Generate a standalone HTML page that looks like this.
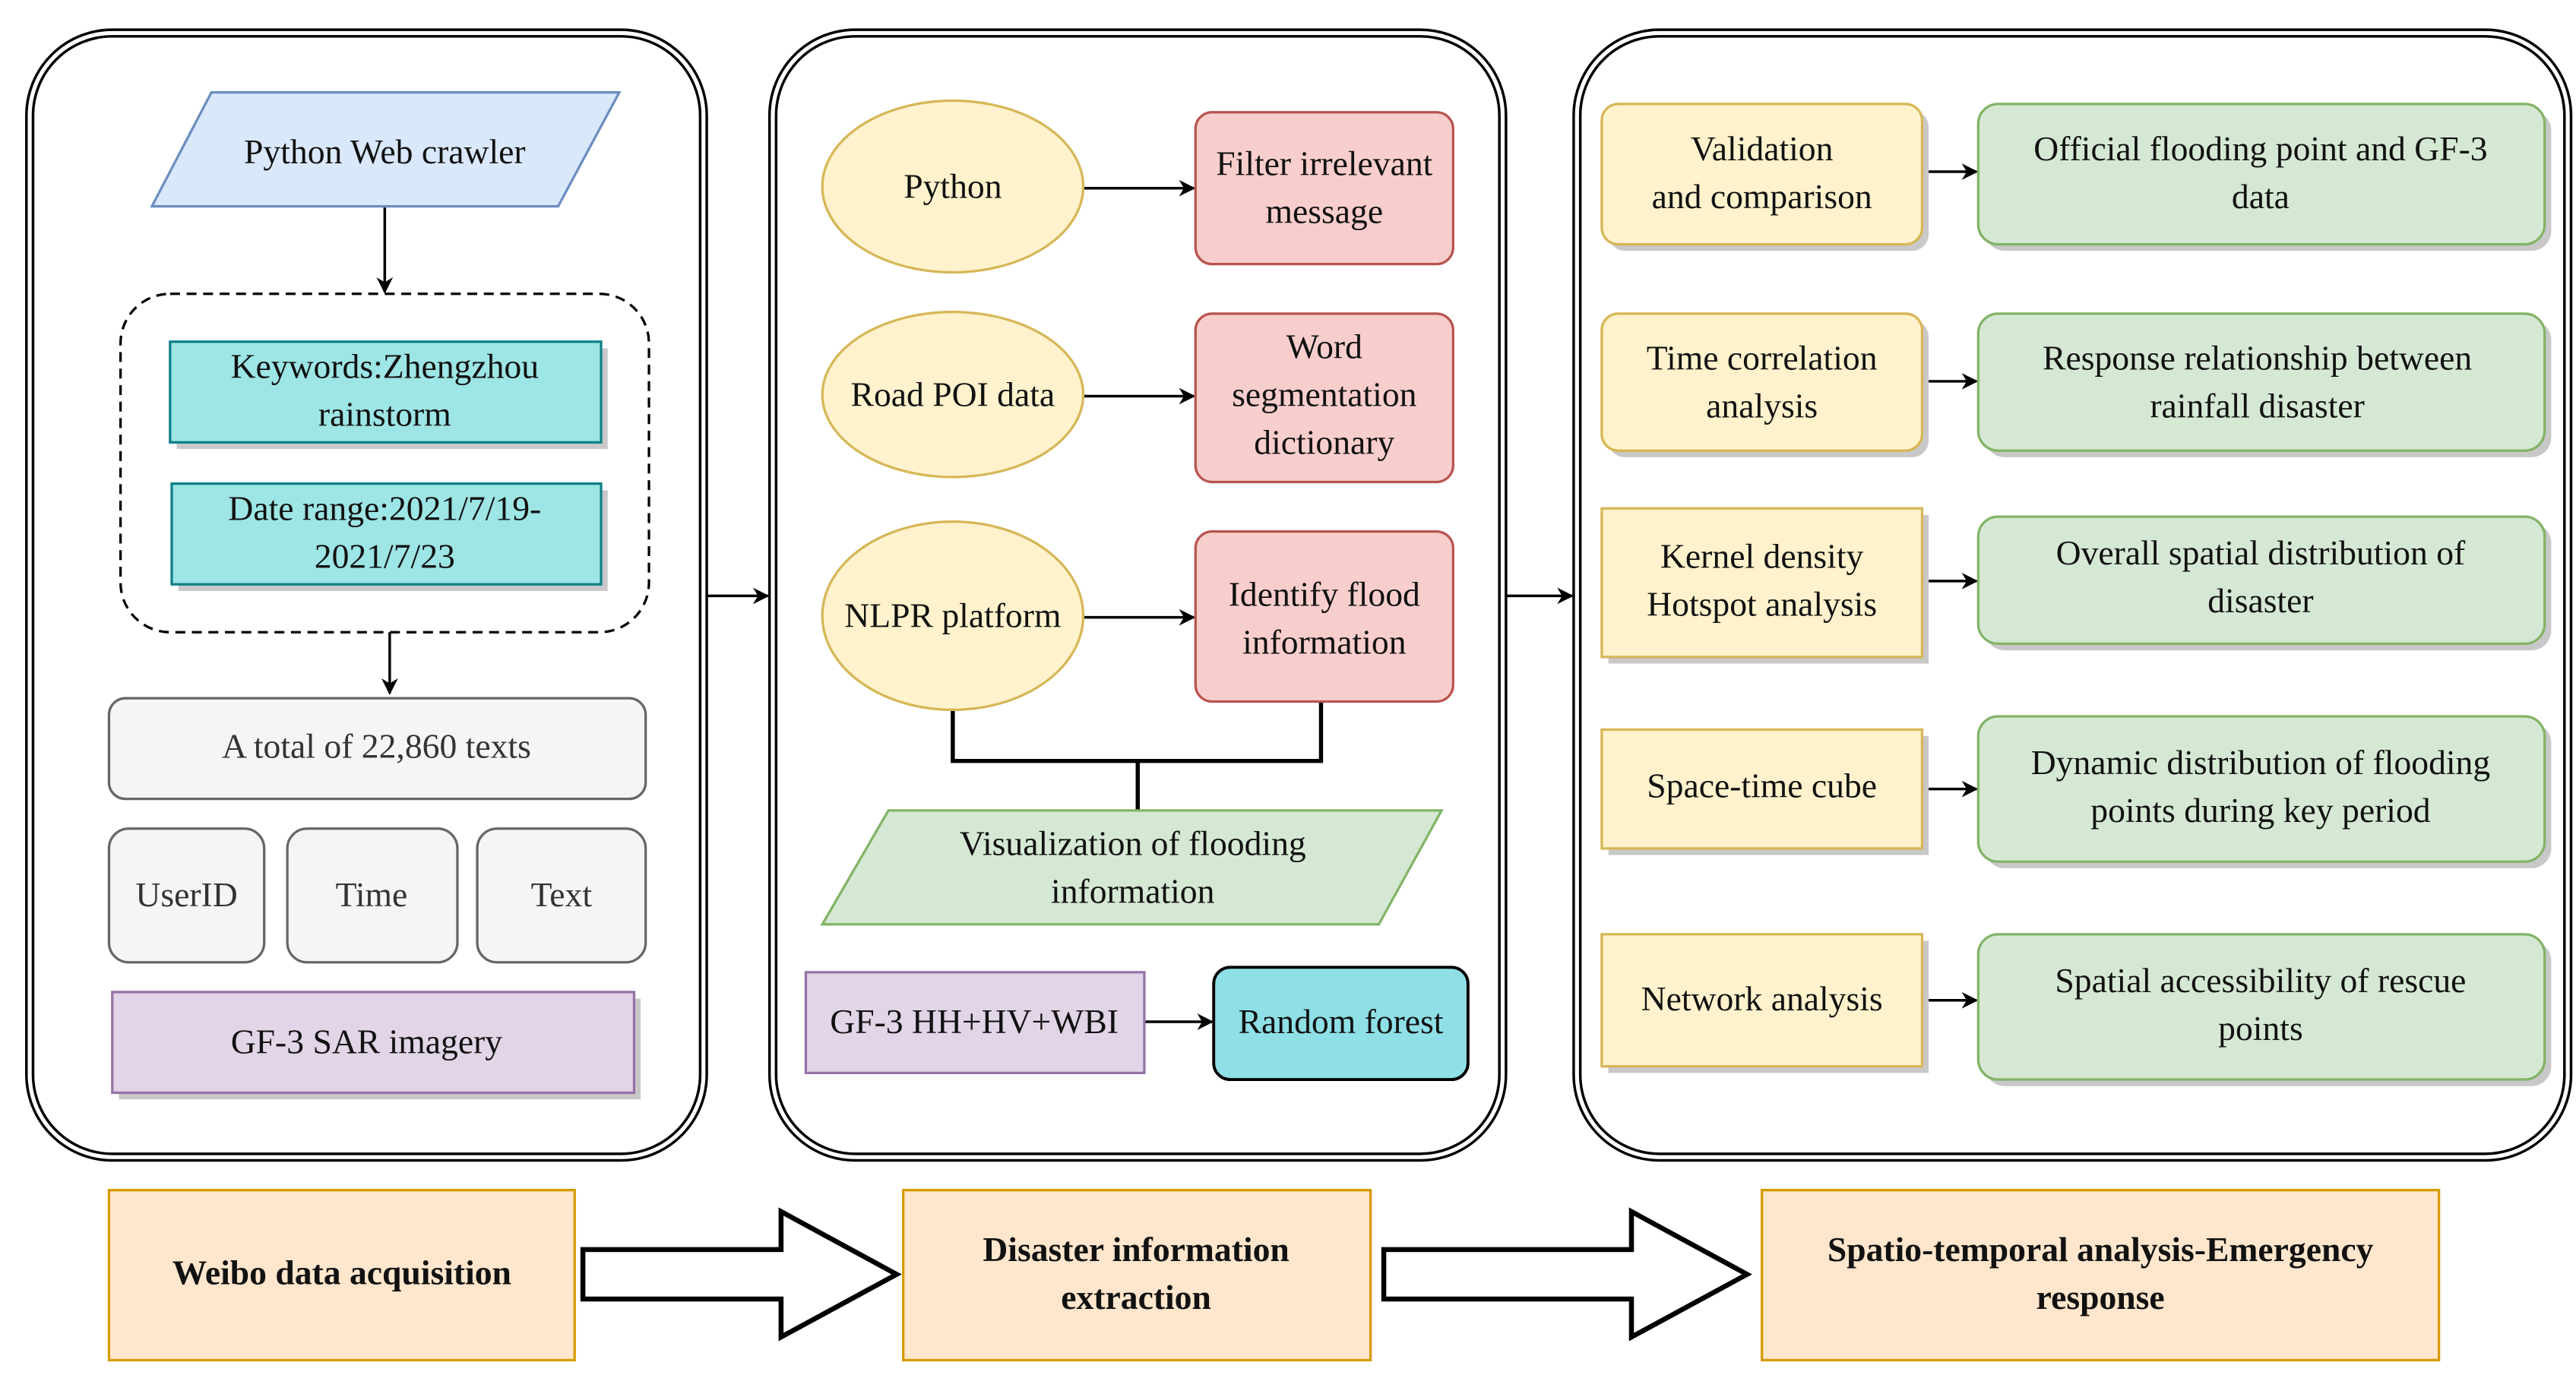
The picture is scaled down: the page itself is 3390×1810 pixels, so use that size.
<!DOCTYPE html>
<html><head><meta charset="utf-8"><style>
html,body{margin:0;padding:0;background:#fff;}
svg{display:block;}
svg text{font-family:"Liberation Serif","DejaVu Serif",serif !important;font-size:21px;fill:#111;text-anchor:middle;}
.b{font-weight:bold;}
</style></head><body>
<svg width="3390" height="1810" viewBox="0 0 1560 833" preserveAspectRatio="none" xmlns="http://www.w3.org/2000/svg" font-family="Liberation Serif, DejaVu Serif, serif">
<defs>
<marker id="ah" markerWidth="10" markerHeight="10" refX="9" refY="5" orient="auto" markerUnits="userSpaceOnUse">
<path d="M0,0 L10,5 L0,10 L3,5 Z" fill="#000"/></marker>
</defs>
<g fill="none" stroke="#000" stroke-width="1.6">
<rect x="16" y="18" width="412" height="685" rx="52"/>
<rect x="20" y="22" width="404" height="677" rx="48"/>
<rect x="466" y="18" width="446" height="685" rx="52"/>
<rect x="470" y="22" width="438" height="677" rx="48"/>
<rect x="953" y="18" width="604" height="685" rx="52"/>
<rect x="957" y="22" width="596" height="677" rx="48"/>
</g>
<g stroke="#000" stroke-width="1.6" fill="none" marker-end="url(#ah)">
<line x1="233" y1="125" x2="233" y2="177"/>
<line x1="236" y1="383" x2="236" y2="420"/>
<line x1="428" y1="361" x2="465" y2="361"/>
<line x1="912" y1="361" x2="952" y2="361"/>
<line x1="656" y1="114" x2="723" y2="114"/>
<line x1="656" y1="240" x2="723" y2="240"/>
<line x1="656" y1="374" x2="723" y2="374"/>
<line x1="693" y1="619" x2="734" y2="619"/>
<line x1="1164" y1="104" x2="1197" y2="104"/>
<line x1="1164" y1="231" x2="1197" y2="231"/>
<line x1="1164" y1="352" x2="1197" y2="352"/>
<line x1="1164" y1="478" x2="1197" y2="478"/>
<line x1="1164" y1="606" x2="1197" y2="606"/>
</g>
<path d="M577,430 V461 H800 V425 M689,461 V491" stroke="#000" stroke-width="2.5" fill="none"/>

<polygon points="128,56 375,56 338,125 92,125" fill="#dae8fc" stroke="#6c8ebf" stroke-width="1.5"/>
<text x="233" y="99" font-family="Liberation Serif, serif" font-size="21">Python Web crawler</text>
<rect x="73" y="178" width="320" height="205" rx="30" fill="none" stroke="#000" stroke-width="1.5" stroke-dasharray="6,4"/>
<rect x="107" y="211" width="261" height="61" fill="#c8c8c8"/>
<rect x="103" y="207" width="261" height="61" fill="#9ee5e5" stroke="#0e8088" stroke-width="1.5"/>
<text x="233" y="229" font-family="Liberation Serif, serif" font-size="21">Keywords:Zhengzhou</text><text x="233" y="258" font-family="Liberation Serif, serif" font-size="21">rainstorm</text>
<rect x="108" y="297" width="260" height="61" fill="#c8c8c8"/>
<rect x="104" y="293" width="260" height="61" fill="#9ee5e5" stroke="#0e8088" stroke-width="1.5"/>
<text x="233" y="315" font-family="Liberation Serif, serif" font-size="21">Date range:2021/7/19-</text><text x="233" y="344" font-family="Liberation Serif, serif" font-size="21">2021/7/23</text>
<rect x="66" y="423" width="325" height="61" rx="10" fill="#f5f5f5" stroke="#666" stroke-width="1.5"/>
<text x="228" y="459" style="fill:#333" font-family="Liberation Serif, serif" font-size="21">A total of 22,860 texts</text>
<rect x="66" y="502" width="94" height="81" rx="12" fill="#f5f5f5" stroke="#666" stroke-width="1.5"/>
<text x="113" y="549" style="fill:#333" font-family="Liberation Serif, serif" font-size="21">UserID</text>
<rect x="174" y="502" width="103" height="81" rx="12" fill="#f5f5f5" stroke="#666" stroke-width="1.5"/>
<text x="225" y="549" style="fill:#333" font-family="Liberation Serif, serif" font-size="21">Time</text>
<rect x="289" y="502" width="102" height="81" rx="12" fill="#f5f5f5" stroke="#666" stroke-width="1.5"/>
<text x="340" y="549" style="fill:#333" font-family="Liberation Serif, serif" font-size="21">Text</text>
<rect x="72" y="605" width="316" height="61" fill="#c8c8c8"/>
<rect x="68" y="601" width="316" height="61" fill="#e1d5e7" stroke="#9673a6" stroke-width="1.5"/>
<text x="222" y="638" font-family="Liberation Serif, serif" font-size="21">GF-3 SAR imagery</text>

<ellipse cx="577" cy="113" rx="79" ry="52" fill="#fff2cc" stroke="#d6b656" stroke-width="1.5"/>
<text x="577" y="120" font-family="Liberation Serif, serif" font-size="21">Python</text>
<rect x="724" y="68" width="156" height="92" rx="10" fill="#f8cecc" stroke="#b85450" stroke-width="1.5"/>
<text x="802" y="106" font-family="Liberation Serif, serif" font-size="21">Filter irrelevant</text><text x="802" y="135" font-family="Liberation Serif, serif" font-size="21">message</text>
<ellipse cx="577" cy="239" rx="79" ry="50" fill="#fff2cc" stroke="#d6b656" stroke-width="1.5"/>
<text x="577" y="246" font-family="Liberation Serif, serif" font-size="21">Road POI data</text>
<rect x="724" y="190" width="156" height="102" rx="10" fill="#f8cecc" stroke="#b85450" stroke-width="1.5"/>
<text x="802" y="217" font-family="Liberation Serif, serif" font-size="21">Word</text><text x="802" y="246" font-family="Liberation Serif, serif" font-size="21">segmentation</text><text x="802" y="275" font-family="Liberation Serif, serif" font-size="21">dictionary</text>
<ellipse cx="577" cy="373" rx="79" ry="57" fill="#fff2cc" stroke="#d6b656" stroke-width="1.5"/>
<text x="577" y="380" font-family="Liberation Serif, serif" font-size="21">NLPR platform</text>
<rect x="724" y="322" width="156" height="103" rx="10" fill="#f8cecc" stroke="#b85450" stroke-width="1.5"/>
<text x="802" y="367" font-family="Liberation Serif, serif" font-size="21">Identify flood</text><text x="802" y="396" font-family="Liberation Serif, serif" font-size="21">information</text>
<polygon points="538,491 873,491 835,560 498,560" fill="#d5e8d4" stroke="#82b366" stroke-width="1.5"/>
<text x="686" y="518" font-family="Liberation Serif, serif" font-size="21">Visualization of flooding</text><text x="686" y="547" font-family="Liberation Serif, serif" font-size="21">information</text>
<rect x="488" y="589" width="205" height="61" fill="#e1d5e7" stroke="#9673a6" stroke-width="1.5"/>
<text x="590" y="626" font-family="Liberation Serif, serif" font-size="21">GF-3 HH+HV+WBI</text>
<rect x="735" y="586" width="154" height="68" rx="10" fill="#8fe0e6" stroke="#000" stroke-width="1.8"/>
<text x="812" y="626" font-family="Liberation Serif, serif" font-size="21">Random forest</text>

<g stroke-width="1.5">
<rect x="974" y="67" width="194" height="85" rx="10" fill="#c8c8c8"/>
<rect x="970" y="63" width="194" height="85" rx="10" fill="#fff2cc" stroke="#d6b656"/>
<rect x="1202" y="67" width="343" height="85" rx="12" fill="#c8c8c8"/>
<rect x="1198" y="63" width="343" height="85" rx="12" fill="#d5e8d4" stroke="#82b366"/>
<rect x="974" y="194" width="194" height="83" rx="10" fill="#c8c8c8"/>
<rect x="970" y="190" width="194" height="83" rx="10" fill="#fff2cc" stroke="#d6b656"/>
<rect x="1202" y="194" width="343" height="83" rx="12" fill="#c8c8c8"/>
<rect x="1198" y="190" width="343" height="83" rx="12" fill="#d5e8d4" stroke="#82b366"/>
<rect x="974" y="312" width="194" height="90" fill="#c8c8c8"/>
<rect x="970" y="308" width="194" height="90" fill="#fff2cc" stroke="#d6b656"/>
<rect x="1202" y="317" width="343" height="77" rx="12" fill="#c8c8c8"/>
<rect x="1198" y="313" width="343" height="77" rx="12" fill="#d5e8d4" stroke="#82b366"/>
<rect x="974" y="446" width="194" height="72" fill="#c8c8c8"/>
<rect x="970" y="442" width="194" height="72" fill="#fff2cc" stroke="#d6b656"/>
<rect x="1202" y="438" width="343" height="88" rx="12" fill="#c8c8c8"/>
<rect x="1198" y="434" width="343" height="88" rx="12" fill="#d5e8d4" stroke="#82b366"/>
<rect x="974" y="570" width="194" height="80" fill="#c8c8c8"/>
<rect x="970" y="566" width="194" height="80" fill="#fff2cc" stroke="#d6b656"/>
<rect x="1202" y="570" width="343" height="88" rx="12" fill="#c8c8c8"/>
<rect x="1198" y="566" width="343" height="88" rx="12" fill="#d5e8d4" stroke="#82b366"/>
</g>
<g font-family="Liberation Serif, serif" font-size="21">
<text x="1067" y="97">Validation</text><text x="1067" y="126">and comparison</text>
<text x="1369" y="97">Official flooding point and GF-3</text><text x="1369" y="126">data</text>
<text x="1067" y="224">Time correlation</text><text x="1067" y="253">analysis</text>
<text x="1367" y="224">Response relationship between</text><text x="1367" y="253">rainfall disaster</text>
<text x="1067" y="344">Kernel density</text><text x="1067" y="373">Hotspot analysis</text>
<text x="1369" y="342">Overall spatial distribution of</text><text x="1369" y="371">disaster</text>
<text x="1067" y="483">Space-time cube</text>
<text x="1369" y="469">Dynamic distribution of flooding</text><text x="1369" y="498">points during key period</text>
<text x="1067" y="612">Network analysis</text>
<text x="1369" y="601">Spatial accessibility of rescue</text><text x="1369" y="630">points</text>
</g>

<g fill="#ffe6cc" stroke="#d79b00" stroke-width="1.5">
<rect x="66" y="721" width="282" height="103"/>
<rect x="547" y="721" width="283" height="103"/>
<rect x="1067" y="721" width="410" height="103"/>
</g>
<g font-family="Liberation Serif, serif" font-size="21" font-weight="bold">
<text class="b" x="207" y="778">Weibo data acquisition</text>
<text class="b" x="688" y="764">Disaster information</text><text class="b" x="688" y="793">extraction</text>
<text class="b" x="1272" y="764">Spatio-temporal analysis-Emergency</text><text class="b" x="1272" y="793">response</text>
</g>
<g fill="#fff" stroke="#000" stroke-width="3">
<polygon points="353,757 473,757 473,734 543,772 473,810 473,787 353,787"/>
<polygon points="838,757 988,757 988,734 1058,772 988,810 988,787 838,787"/>
</g>
</svg>
</body></html>
